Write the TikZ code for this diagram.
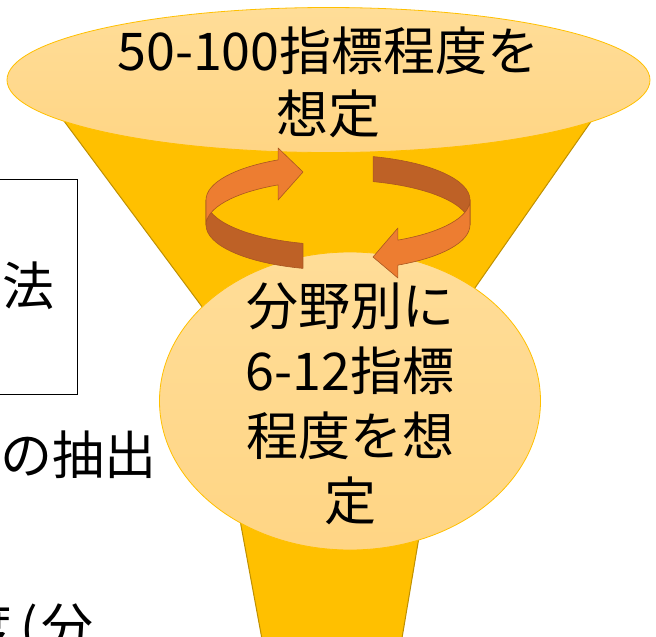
\documentclass[tikz,border=0pt]{standalone}
\usepackage{fontspec}
\newfontfamily\jp{Noto Sans CJK JP}
\usetikzlibrary{shapes.geometric}
\definecolor{gold}{HTML}{FFC000}
\definecolor{goldedge}{HTML}{BF9000}
\definecolor{paletop}{HTML}{FFDD98}
\definecolor{palebot}{HTML}{FFD584}
\definecolor{arrlight}{HTML}{ED7D31}
\definecolor{arrdark}{HTML}{BE6126}
\definecolor{arredge}{HTML}{A9561F}
\begin{document}
\begin{tikzpicture}[x=1pt,y=1pt,
  bubble/.style={ellipse, draw=gold, line width=0.8pt, top color=paletop, bottom color=palebot, inner sep=0pt},
  bigtext/.style={font={\jp\fontsize{52}{63}\selectfont}, align=center, inner sep=0pt, text=black},
  bigtextb/.style={font={\jp\fontsize{52}{65}\selectfont}, align=center, inner sep=0pt, text=black},
  funnelpart/.style={fill=gold, draw=goldedge, line width=1pt, line join=round},
  ringlight/.style={fill=arrlight, draw=arredge, line width=0.6pt, line join=round},
  ringdark/.style={fill=arrdark, draw=arredge, line width=0.6pt, line join=round},
  boxframe/.style={draw=black, line width=1pt}]
\useasboundingbox (0,0) rectangle (656,-637);
\clip (0,0) rectangle (656,-637);

% left partial box and side texts
\node[boxframe, minimum width=90pt, minimum height=215pt, anchor=north east, inner sep=0pt] (leftbox) at (77.5,-179) {};
\node[bigtext, anchor=center] (hou) at (28,-286) {法};
\node[bigtext, anchor=west] (chushutsu) at (0,-455) {の抽出};
\node[bigtext, anchor=east] (bunya) at (94,-630) {度\hspace{8pt}(\hspace{4pt}分};

% funnel cone and stem
\path[funnelpart] (33.5,-80) -- (620,-80) -- (336,-487) -- cycle;
\path[funnelpart] (232.6,-480) -- (428.6,-480) -- (400,-650) -- (264,-650) -- cycle;

% ellipses
\node[bubble, minimum width=643pt, minimum height=145pt] (topE) at (328.5,-80) {};
\node[bigtext] (topT) at (topE.center) [yshift=-2pt] {50-100指標程度を\\想定};
\node[bubble, minimum width=381pt, minimum height=298pt] (lowE) at (350,-401) {};
\node[bigtextb] (lowT) at (350,-404) {分野別に\\6-12指標\\程度を想\\定};

% circular arrows
% left arrow: front (dark) part
\path[ringdark] (206,-200) arc[start angle=180, end angle=254.6, x radius=132, y radius=45]
   -- ++(0,-25) arc[start angle=254.6, end angle=180, x radius=132, y radius=45] -- cycle;
% left arrow: back (light) part with head
\path[ringlight] (206,-200) arc[start angle=180, end angle=117, x radius=132, y radius=45]
   -- (278.1,-148) -- (303,-172) -- (278.1,-200) -- (278.1,-184.9)
   arc[start angle=117, end angle=180, x radius=132, y radius=45] -- cycle;
% right arrow: back (dark) part
\path[ringdark] (373.1,-156.6) arc[start angle=74.6, end angle=0, x radius=132, y radius=45]
   -- (470,-225) arc[start angle=0, end angle=74.6, x radius=132, y radius=45] -- cycle;
% right arrow: front (light) part with head
\path[ringlight] (470,-200) arc[start angle=0, end angle=-63, x radius=132, y radius=45]
   -- (397.9,-228) -- (373,-257) -- (397.9,-278) -- (397.9,-265.1)
   arc[start angle=-63, end angle=0, x radius=132, y radius=45] -- cycle;
\end{tikzpicture}
\end{document}
